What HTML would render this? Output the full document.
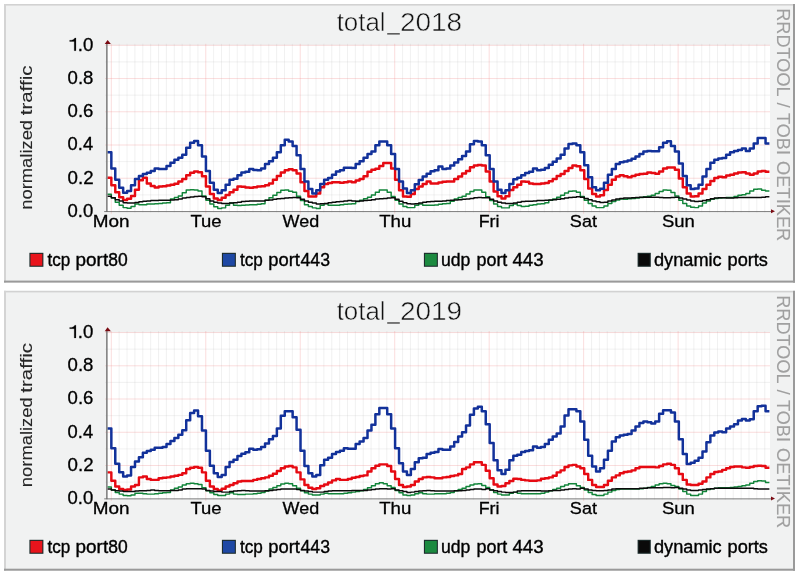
<!DOCTYPE html>
<html><head><meta charset="utf-8"><title>traffic</title>
<style>
html,body{margin:0;padding:0;background:#fff;}
body{width:800px;height:575px;overflow:hidden;font-family:"Liberation Sans",sans-serif;}
svg{display:block;filter:blur(0.45px);}
</style></head><body>
<svg width="800" height="575" viewBox="0 0 800 575" font-family="'Liberation Sans', sans-serif">
<defs><clipPath id="clip"><rect x="100" y="0" width="669.8" height="575"/></clipPath></defs>
<rect width="800" height="575" fill="#fff"/>
<rect x="4" y="4" width="791" height="278.6" fill="#f1f2f2"/>
<rect x="4" y="4" width="791" height="1.6" fill="#d2d2d2"/>
<rect x="4" y="4" width="2" height="278.6" fill="#d4d4d4"/>
<rect x="4" y="280.6" width="791" height="2" fill="#9a9a9a"/>
<rect x="793" y="4" width="2" height="278.6" fill="#9a9a9a"/>
<rect x="107.6" y="45.3" width="662.4" height="166.2" fill="#fff"/>
<path d="M119.17 43.80V212.50M127.05 43.80V212.50M134.92 43.80V212.50M142.79 43.80V212.50M150.66 43.80V212.50M158.53 43.80V212.50M166.41 43.80V212.50M174.28 43.80V212.50M182.15 43.80V212.50M190.03 43.80V212.50M197.90 43.80V212.50M213.64 43.80V212.50M221.51 43.80V212.50M229.39 43.80V212.50M237.26 43.80V212.50M245.13 43.80V212.50M253.00 43.80V212.50M260.88 43.80V212.50M268.75 43.80V212.50M276.62 43.80V212.50M284.50 43.80V212.50M292.37 43.80V212.50M308.11 43.80V212.50M315.99 43.80V212.50M323.86 43.80V212.50M331.73 43.80V212.50M339.60 43.80V212.50M347.48 43.80V212.50M355.35 43.80V212.50M363.22 43.80V212.50M371.09 43.80V212.50M378.97 43.80V212.50M386.84 43.80V212.50M402.58 43.80V212.50M410.45 43.80V212.50M418.33 43.80V212.50M426.20 43.80V212.50M434.07 43.80V212.50M441.94 43.80V212.50M449.82 43.80V212.50M457.69 43.80V212.50M465.56 43.80V212.50M473.44 43.80V212.50M481.31 43.80V212.50M497.05 43.80V212.50M504.93 43.80V212.50M512.80 43.80V212.50M520.67 43.80V212.50M528.54 43.80V212.50M536.41 43.80V212.50M544.29 43.80V212.50M552.16 43.80V212.50M560.03 43.80V212.50M567.90 43.80V212.50M575.78 43.80V212.50M591.52 43.80V212.50M599.39 43.80V212.50M607.27 43.80V212.50M615.14 43.80V212.50M623.01 43.80V212.50M630.88 43.80V212.50M638.76 43.80V212.50M646.63 43.80V212.50M654.50 43.80V212.50M662.38 43.80V212.50M670.25 43.80V212.50M685.99 43.80V212.50M693.86 43.80V212.50M701.74 43.80V212.50M709.61 43.80V212.50M717.48 43.80V212.50M725.35 43.80V212.50M733.23 43.80V212.50M741.10 43.80V212.50M748.97 43.80V212.50M756.84 43.80V212.50M764.72 43.80V212.50M105.10 194.88H770.00M105.10 161.64H770.00M105.10 128.40H770.00M105.10 95.16H770.00M105.10 61.92H770.00" stroke="#bdbdbd" stroke-width="0.9" fill="none" opacity="0.24"/>
<path d="M105.10 178.26H770.00M105.10 145.02H770.00M105.10 111.78H770.00M105.10 78.54H770.00M105.10 45.30H770.00M111.30 43.80V213.70M205.77 43.80V213.70M300.24 43.80V213.70M394.71 43.80V213.70M489.18 43.80V213.70M583.65 43.80V213.70M678.12 43.80V213.70" stroke="#ee8080" stroke-width="0.9" fill="none" opacity="0.30"/>
<path d="M107.40 177.81H111.34V185.32H115.28V192.20H119.22V197.21H123.16V200.09H127.11V198.83H131.05V195.96H134.99V189.70H138.93V180.31H142.87V177.81H146.81V183.44H150.75V185.94H154.69V187.57H158.63V186.57H162.57V186.32H166.51V185.57H170.46V184.69H174.40V183.82H178.34V181.56H182.28V179.06H186.22V175.31H190.16V172.80H194.10V171.55H198.04V172.18H201.98V176.31H205.93V186.57H209.87V194.08H213.81V198.46H217.75V200.09H221.69V197.83H225.63V195.08H229.57V192.20H233.51V189.70H237.45V186.57H241.39V186.82H245.34V187.57H249.28V187.82H253.22V187.20H257.16V186.57H261.10V186.32H265.04V185.32H268.98V183.44H272.92V179.69H276.86V175.93H280.80V172.55H284.75V170.30H288.69V169.30H292.63V170.30H296.57V173.43H300.51V182.19H304.45V190.95H308.39V196.58H312.33V196.58H316.27V193.45H320.21V187.20H324.15V184.07H328.10V183.07H332.04V182.19H335.98V182.19H339.92V182.82H343.86V182.19H347.80V181.56H351.74V182.19H355.68V180.56H359.62V179.06H363.56V176.31H367.51V171.80H371.45V169.67H375.39V168.80H379.33V165.92H383.27V163.04H387.21V163.04H391.15V168.42H395.09V179.69H399.03V190.32H402.98V196.58H406.92V196.83H410.86V194.08H414.80V189.07H418.74V186.57H422.68V184.07H426.62V181.56H430.56V183.44H434.50V183.44H438.44V182.57H442.38V181.81H446.33V181.56H450.27V181.56H454.21V179.06H458.15V176.56H462.09V173.43H466.03V170.93H469.97V167.17H473.91V165.54H477.85V165.04H481.79V165.54H485.74V171.55H489.68V181.56H493.62V191.58H497.56V196.33H501.50V198.46H505.44V196.33H509.38V190.07H513.32V187.20H517.26V184.69H521.21V181.56H525.15V181.81H529.09V183.44H533.03V184.07H536.97V184.07H540.91V183.44H544.85V183.07H548.79V181.31H552.73V179.06H556.67V175.93H560.62V174.05H564.56V170.93H568.50V168.05H572.44V165.54H576.38V166.30H580.32V170.30H584.26V179.06H588.20V188.45H592.14V194.08H596.08V196.58H600.02V195.33H603.97V190.07H607.91V184.69H611.85V179.69H615.79V176.56H619.73V175.31H623.67V176.31H627.61V177.18H631.55V175.93H635.49V174.68H639.43V174.05H643.38V173.80H647.32V172.55H651.26V173.05H655.20V173.80H659.14V171.55H663.08V168.42H667.02V167.55H670.96V167.55H674.90V169.67H678.84V178.44H682.79V187.20H686.73V193.45H690.67V196.58H694.61V196.33H698.55V193.45H702.49V189.07H706.43V184.69H710.37V180.94H714.31V178.06H718.25V176.81H722.20V177.18H726.14V175.56H730.08V174.68H734.02V173.43H737.96V172.55H741.90V172.18H745.84V173.43H749.78V174.68H753.72V173.43H757.66V171.55H761.61V170.93H765.55V171.80H769.49" stroke="#e60a12" stroke-width="2.45" fill="none" stroke-linejoin="round" clip-path="url(#clip)"/>
<path d="M107.40 152.15H111.34V168.42H115.28V179.69H119.22V187.82H123.16V192.83H127.11V190.95H131.05V185.32H134.99V179.06H138.93V175.93H142.87V174.05H146.81V172.80H150.75V170.93H154.69V168.42H158.63V169.05H162.57V169.05H166.51V165.92H170.46V162.79H174.40V159.66H178.34V157.79H182.28V154.66H186.22V147.77H190.16V142.77H194.10V140.89H198.04V145.27H201.98V156.53H205.93V170.93H209.87V182.82H213.81V189.70H217.75V193.08H221.69V190.32H225.63V184.69H229.57V179.69H233.51V178.81H237.45V175.31H241.39V172.55H245.34V171.80H249.28V169.05H253.22V170.05H257.16V170.30H261.10V168.42H265.04V164.04H268.98V161.29H272.92V157.79H276.86V152.15H280.80V145.27H284.75V139.64H288.69V141.52H292.63V145.90H296.57V155.28H300.51V169.05H304.45V181.56H308.39V189.07H312.33V193.45H316.27V190.32H320.21V184.07H324.15V179.69H328.10V178.06H332.04V174.68H335.98V171.55H339.92V170.30H343.86V167.80H347.80V167.80H351.74V168.05H355.68V164.04H359.62V161.29H363.56V157.79H367.51V154.03H371.45V151.53H375.39V145.27H379.33V141.52H383.27V141.52H387.21V145.27H391.15V154.03H395.09V169.05H399.03V181.56H402.98V188.45H406.92V193.08H410.86V190.32H414.80V184.32H418.74V180.06H422.68V176.56H426.62V173.80H430.56V171.30H434.50V170.30H438.44V166.55H442.38V169.05H446.33V168.42H450.27V165.54H454.21V162.54H458.15V159.29H462.09V155.91H466.03V151.53H469.97V144.27H473.91V140.89H477.85V141.52H481.79V145.27H485.74V155.28H489.68V169.05H493.62V181.56H497.56V189.70H501.50V193.08H505.44V190.32H509.38V184.07H513.32V179.31H517.26V177.81H521.21V175.31H525.15V173.05H529.09V171.80H533.03V168.42H536.97V170.30H540.91V169.67H544.85V168.05H548.79V164.67H552.73V161.79H556.67V158.41H560.62V154.66H564.56V148.40H568.50V144.02H572.44V143.39H576.38V145.27H580.32V152.15H584.26V165.29H588.20V177.18H592.14V187.20H596.08V190.32H600.02V188.82H603.97V182.82H607.91V174.68H611.85V169.05H615.79V164.04H619.73V162.17H623.67V161.54H627.61V160.54H631.55V158.79H635.49V156.53H639.43V154.03H643.38V151.53H647.32V150.90H651.26V151.28H655.20V151.28H659.14V147.15H663.08V142.77H667.02V141.27H670.96V145.90H674.90V151.53H678.84V163.42H682.79V175.93H686.73V185.32H690.67V189.07H694.61V188.45H698.55V184.69H702.49V176.56H706.43V169.05H710.37V162.79H714.31V159.66H718.25V158.41H722.20V158.04H726.14V154.66H730.08V152.15H734.02V150.90H737.96V150.03H741.90V148.40H745.84V150.90H749.78V148.40H753.72V143.39H757.66V138.01H761.61V138.01H765.55V143.39H769.49" stroke="#12319a" stroke-width="2.5" fill="none" stroke-linejoin="round" clip-path="url(#clip)"/>
<path d="M107.40 194.33H111.34V198.08H115.28V202.21H119.22V205.34H123.16V207.60H127.11V208.22H131.05V206.59H134.99V204.09H138.93V204.72H142.87V204.72H146.81V204.09H150.75V204.09H154.69V203.84H158.63V203.47H162.57V203.09H166.51V202.84H170.46V199.09H174.40V197.58H178.34V195.96H182.28V192.83H186.22V190.07H190.16V189.70H194.10V190.07H198.04V190.95H201.98V195.96H205.93V200.34H209.87V204.09H213.81V206.84H217.75V208.47H221.69V207.85H225.63V205.34H229.57V203.09H233.51V205.34H237.45V205.59H241.39V205.34H245.34V205.09H249.28V204.72H253.22V204.72H257.16V204.34H261.10V203.84H265.04V200.34H268.98V197.83H272.92V195.33H276.86V192.58H280.80V190.32H284.75V190.07H288.69V191.33H292.63V192.20H296.57V196.33H300.51V200.59H304.45V204.72H308.39V206.59H312.33V207.85H316.27V208.47H320.21V205.34H324.15V203.84H328.10V205.34H332.04V205.34H335.98V205.34H339.92V204.72H343.86V204.34H347.80V204.09H351.74V203.84H355.68V201.59H359.62V200.34H363.56V198.83H367.51V197.21H371.45V195.08H375.39V192.20H379.33V190.07H383.27V190.07H387.21V192.20H391.15V196.58H395.09V200.34H399.03V204.09H402.98V206.59H406.92V207.60H410.86V207.60H414.80V205.34H418.74V204.09H422.68V205.34H426.62V205.34H430.56V205.34H434.50V205.09H438.44V204.34H442.38V203.84H446.33V203.47H450.27V201.34H454.21V199.09H458.15V197.58H462.09V196.33H466.03V194.08H469.97V191.58H473.91V190.07H477.85V190.07H481.79V192.20H485.74V196.83H489.68V200.59H493.62V204.09H497.56V206.59H501.50V207.85H505.44V207.85H509.38V205.59H513.32V204.09H517.26V205.59H521.21V206.59H525.15V206.34H529.09V205.34H533.03V204.72H536.97V204.09H540.91V203.84H544.85V202.84H548.79V200.34H552.73V199.09H556.67V197.21H560.62V195.33H564.56V193.08H568.50V191.33H572.44V190.95H576.38V192.20H580.32V196.58H584.26V200.34H588.20V203.47H592.14V205.97H596.08V207.60H600.02V207.60H603.97V205.97H607.91V203.47H611.85V201.59H615.79V200.09H619.73V199.09H623.67V199.34H627.61V198.83H631.55V198.46H635.49V198.08H639.43V197.58H643.38V196.83H647.32V196.33H651.26V195.33H655.20V193.45H659.14V191.58H663.08V190.07H667.02V190.32H670.96V192.58H674.90V195.96H678.84V200.34H682.79V203.47H686.73V205.97H690.67V207.22H694.61V207.60H698.55V205.97H702.49V203.09H706.43V200.96H710.37V199.34H714.31V198.46H718.25V198.08H722.20V197.83H726.14V197.58H730.08V197.58H734.02V196.58H737.96V195.33H741.90V194.70H745.84V193.45H749.78V190.95H753.72V189.32H757.66V189.07H761.61V190.32H765.55V190.95H769.49" stroke="#12853a" stroke-width="1.45" fill="none" stroke-linejoin="round" clip-path="url(#clip)"/>
<path d="M107.40 196.33H111.34V197.83H115.28V199.71H119.22V200.96H123.16V202.84H127.11V203.09H131.05V203.09H134.99V202.59H138.93V201.84H142.87V201.34H146.81V200.96H150.75V200.59H154.69V200.59H158.63V200.34H162.57V200.34H166.51V200.34H170.46V200.09H174.40V199.71H178.34V199.09H182.28V198.08H186.22V197.58H190.16V196.96H194.10V196.58H198.04V196.33H201.98V196.83H205.93V198.83H209.87V200.96H213.81V202.21H217.75V203.09H221.69V203.47H225.63V203.47H229.57V203.09H233.51V202.84H237.45V202.21H241.39V201.59H245.34V201.34H249.28V200.96H253.22V200.96H257.16V200.96H261.10V200.96H265.04V200.34H268.98V200.09H272.92V199.34H276.86V198.83H280.80V198.46H284.75V198.08H288.69V197.83H292.63V197.58H296.57V197.83H300.51V199.34H304.45V200.96H308.39V202.21H312.33V203.09H316.27V204.09H320.21V203.84H324.15V203.47H328.10V202.84H332.04V202.21H335.98V201.84H339.92V201.59H343.86V200.96H347.80V200.59H351.74V200.96H355.68V201.34H359.62V200.96H363.56V200.59H367.51V200.34H371.45V199.71H375.39V199.09H379.33V198.83H383.27V198.46H387.21V198.08H391.15V197.83H395.09V199.34H399.03V201.34H402.98V202.84H406.92V203.84H410.86V204.09H414.80V203.84H418.74V203.09H422.68V202.21H426.62V201.84H430.56V201.59H434.50V201.34H438.44V201.34H442.38V200.96H446.33V200.59H450.27V200.34H454.21V200.09H458.15V199.71H462.09V199.34H466.03V199.09H469.97V198.46H473.91V197.83H477.85V197.58H481.79V197.83H485.74V197.83H489.68V199.34H493.62V200.96H497.56V202.21H501.50V203.09H505.44V203.47H509.38V203.47H513.32V203.09H517.26V202.21H521.21V201.59H525.15V201.34H529.09V201.34H533.03V200.96H536.97V200.59H540.91V200.59H544.85V200.34H548.79V200.09H552.73V199.71H556.67V199.34H560.62V198.83H564.56V198.08H568.50V197.58H572.44V197.21H576.38V196.83H580.32V197.21H584.26V198.46H588.20V199.71H592.14V200.96H596.08V201.84H600.02V202.59H603.97V202.21H607.91V200.96H611.85V200.09H615.79V199.09H619.73V198.46H623.67V198.08H627.61V198.08H631.55V197.83H635.49V197.58H639.43V197.21H643.38V197.21H647.32V197.21H651.26V197.21H655.20V197.21H659.14V197.58H663.08V197.83H667.02V197.83H670.96V197.58H674.90V197.21H678.84V198.08H682.79V199.09H686.73V200.09H690.67V200.96H694.61V201.59H698.55V201.34H702.49V200.59H706.43V199.71H710.37V198.83H714.31V198.08H718.25V197.83H722.20V197.83H726.14V198.08H730.08V198.08H734.02V197.83H737.96V197.58H741.90V197.58H745.84V197.58H749.78V197.58H753.72V197.58H757.66V197.58H761.61V197.21H765.55V196.83H769.49" stroke="#0a0a0a" stroke-width="1.45" fill="none" stroke-linejoin="round" clip-path="url(#clip)"/>
<rect x="106.1" y="43.8" width="1.5" height="168.2" fill="#7d7d7d"/>
<rect x="104.2" y="211.2" width="666.8" height="0.85" fill="#6a6a6a"/>
<path d="M107.6 40.00L104.7 44.00H110.9Z" fill="#7a0a12"/>
<path d="M775 211.30L771 209.30V213.30Z" fill="#7a0a12"/>
<text transform="translate(67.56 216.90) scale(1.0343 1)" font-size="17.9" fill="#000" stroke="#000" stroke-width="0.3">0.0</text>
<text transform="translate(67.55 183.66) scale(1.0443 1)" font-size="17.9" fill="#000" stroke="#000" stroke-width="0.3">0.2</text>
<text transform="translate(67.57 150.42) scale(1.0265 1)" font-size="17.9" fill="#000" stroke="#000" stroke-width="0.3">0.4</text>
<text transform="translate(67.56 117.18) scale(1.0383 1)" font-size="17.9" fill="#000" stroke="#000" stroke-width="0.3">0.6</text>
<text transform="translate(67.56 83.94) scale(1.0383 1)" font-size="17.9" fill="#000" stroke="#000" stroke-width="0.3">0.8</text>
<text transform="translate(77.78 50.70) scale(1.0418 1)" font-size="17.9" fill="#000" stroke="#000" stroke-width="0.3">.0</text>
<path d="M75.95 50.70L74.23 50.70L74.23 41.48L69.63 41.48L69.63 40.28C72.22 40.17 74.28 39.51 74.77 37.96L75.95 37.96Z" fill="#000" stroke="#000" stroke-width="0.2"/>
<text transform="translate(92.83 227.05) scale(1.1000 1)" font-size="17.2" fill="#000" stroke="#000" stroke-width="0.3">Mon</text>
<text transform="translate(190.48 227.05) scale(1.0750 1)" font-size="17.2" fill="#000" stroke="#000" stroke-width="0.3">Tue</text>
<text transform="translate(282.55 227.05) scale(1.0450 1)" font-size="17.2" fill="#000" stroke="#000" stroke-width="0.3">Wed</text>
<text transform="translate(379.13 227.05) scale(1.0850 1)" font-size="17.2" fill="#000" stroke="#000" stroke-width="0.3">Thu</text>
<text transform="translate(478.70 227.05) scale(1.0400 1)" font-size="17.2" fill="#000" stroke="#000" stroke-width="0.3">Fri</text>
<text transform="translate(569.87 227.05) scale(1.0500 1)" font-size="17.2" fill="#000" stroke="#000" stroke-width="0.3">Sat</text>
<text transform="translate(661.97 227.05) scale(1.0750 1)" font-size="17.2" fill="#000" stroke="#000" stroke-width="0.3">Sun</text>
<text transform="translate(336.66 30.60) scale(1.0114 1)" font-size="25.6" fill="#111" stroke="#f1f2f2" stroke-width="0.5">total</text>
<text transform="translate(399.90 30.60) scale(1.0921 1)" font-size="25.6" fill="#111" stroke="#f1f2f2" stroke-width="0.5">2018</text>
<rect x="387.2" y="33.30" width="12.6" height="1.15" fill="#222"/>
<text transform="translate(32.1 209.74) rotate(-90) scale(1.0807 1)" font-size="17" fill="#262626" stroke="#262626" stroke-width="0.1">normalized</text>
<text transform="translate(32.1 115.31) rotate(-90) scale(1.2073 1)" font-size="17" fill="#262626" stroke="#262626" stroke-width="0.1">traffic</text>
<text transform="translate(777.3 8.20) rotate(90) scale(0.9464 1)" font-size="19.2" fill="#a0a0a0" stroke="#a0a0a0" stroke-width="0.1">RRDTOOL</text>
<text transform="translate(777.3 102.60) rotate(90) scale(0.9947 1)" font-size="19.2" fill="#a0a0a0" stroke="#a0a0a0" stroke-width="0.1">/</text>
<text transform="translate(777.3 112.99) rotate(90) scale(0.9446 1)" font-size="19.2" fill="#a0a0a0" stroke="#a0a0a0" stroke-width="0.1">TOBI</text>
<text transform="translate(777.3 161.03) rotate(90) scale(0.9531 1)" font-size="19.2" fill="#a0a0a0" stroke="#a0a0a0" stroke-width="0.1">OETIKER</text>
<rect x="29.4" y="252.80" width="14" height="14" fill="#1c2c2c"/>
<rect x="30.5" y="253.90" width="11.8" height="11.8" fill="#e8141c"/>
<text transform="translate(47.49 266.00) scale(0.9346 1)" font-size="18.3" fill="#000" stroke="#000" stroke-width="0.38">tcp</text>
<text transform="translate(75.57 266.00) scale(1.0333 1)" font-size="18.3" fill="#000" stroke="#000" stroke-width="0.38">port</text>
<text transform="translate(108.26 266.00) scale(0.9550 1)" font-size="18.3" fill="#000" stroke="#000" stroke-width="0.38">80</text>
<rect x="221.9" y="252.80" width="14" height="14" fill="#1c2c2c"/>
<rect x="223" y="253.90" width="11.8" height="11.8" fill="#1e48a4"/>
<text transform="translate(240.04 266.00) scale(0.9368 1)" font-size="18.3" fill="#000" stroke="#000" stroke-width="0.38">tcp</text>
<text transform="translate(268.21 266.00) scale(1.0035 1)" font-size="18.3" fill="#000" stroke="#000" stroke-width="0.38">port</text>
<text transform="translate(300.50 266.00) scale(0.9650 1)" font-size="18.3" fill="#000" stroke="#000" stroke-width="0.38">443</text>
<rect x="423.9" y="252.80" width="14" height="14" fill="#1c2c2c"/>
<rect x="425" y="253.90" width="11.8" height="11.8" fill="#1c8a40"/>
<text transform="translate(441.00 266.00) scale(0.9635 1)" font-size="18.3" fill="#000" stroke="#000" stroke-width="0.38">udp</text>
<text transform="translate(476.43 266.00) scale(0.9803 1)" font-size="18.3" fill="#000" stroke="#000" stroke-width="0.38">port</text>
<text transform="translate(512.48 266.00) scale(1.0196 1)" font-size="18.3" fill="#000" stroke="#000" stroke-width="0.38">443</text>
<rect x="637.6" y="252.80" width="13.2" height="14" fill="#1c2c2c"/>
<rect x="638.7" y="253.90" width="11" height="11.8" fill="#0a0a0a"/>
<text transform="translate(653.98 266.00) scale(0.9942 1)" font-size="18.3" fill="#000" stroke="#000" stroke-width="0.38">dynamic</text>
<text transform="translate(727.52 266.00) scale(0.9938 1)" font-size="18.3" fill="#000" stroke="#000" stroke-width="0.38">ports</text>
<rect x="4" y="290.8" width="791" height="279.9" fill="#f1f2f2"/>
<rect x="4" y="290.8" width="791" height="1.6" fill="#d2d2d2"/>
<rect x="4" y="290.8" width="2" height="279.9" fill="#d4d4d4"/>
<rect x="4" y="568.7" width="791" height="2" fill="#9a9a9a"/>
<rect x="793" y="290.8" width="2" height="279.9" fill="#9a9a9a"/>
<rect x="107.6" y="332.55" width="662.4" height="166.2" fill="#fff"/>
<path d="M119.17 331.05V499.75M127.05 331.05V499.75M134.92 331.05V499.75M142.79 331.05V499.75M150.66 331.05V499.75M158.53 331.05V499.75M166.41 331.05V499.75M174.28 331.05V499.75M182.15 331.05V499.75M190.03 331.05V499.75M197.90 331.05V499.75M213.64 331.05V499.75M221.51 331.05V499.75M229.39 331.05V499.75M237.26 331.05V499.75M245.13 331.05V499.75M253.00 331.05V499.75M260.88 331.05V499.75M268.75 331.05V499.75M276.62 331.05V499.75M284.50 331.05V499.75M292.37 331.05V499.75M308.11 331.05V499.75M315.99 331.05V499.75M323.86 331.05V499.75M331.73 331.05V499.75M339.60 331.05V499.75M347.48 331.05V499.75M355.35 331.05V499.75M363.22 331.05V499.75M371.09 331.05V499.75M378.97 331.05V499.75M386.84 331.05V499.75M402.58 331.05V499.75M410.45 331.05V499.75M418.33 331.05V499.75M426.20 331.05V499.75M434.07 331.05V499.75M441.94 331.05V499.75M449.82 331.05V499.75M457.69 331.05V499.75M465.56 331.05V499.75M473.44 331.05V499.75M481.31 331.05V499.75M497.05 331.05V499.75M504.93 331.05V499.75M512.80 331.05V499.75M520.67 331.05V499.75M528.54 331.05V499.75M536.41 331.05V499.75M544.29 331.05V499.75M552.16 331.05V499.75M560.03 331.05V499.75M567.90 331.05V499.75M575.78 331.05V499.75M591.52 331.05V499.75M599.39 331.05V499.75M607.27 331.05V499.75M615.14 331.05V499.75M623.01 331.05V499.75M630.88 331.05V499.75M638.76 331.05V499.75M646.63 331.05V499.75M654.50 331.05V499.75M662.38 331.05V499.75M670.25 331.05V499.75M685.99 331.05V499.75M693.86 331.05V499.75M701.74 331.05V499.75M709.61 331.05V499.75M717.48 331.05V499.75M725.35 331.05V499.75M733.23 331.05V499.75M741.10 331.05V499.75M748.97 331.05V499.75M756.84 331.05V499.75M764.72 331.05V499.75M105.10 482.13H770.00M105.10 448.89H770.00M105.10 415.65H770.00M105.10 382.41H770.00M105.10 349.17H770.00" stroke="#bdbdbd" stroke-width="0.9" fill="none" opacity="0.24"/>
<path d="M105.10 465.51H770.00M105.10 432.27H770.00M105.10 399.03H770.00M105.10 365.79H770.00M105.10 332.55H770.00M111.30 331.05V500.95M205.77 331.05V500.95M300.24 331.05V500.95M394.71 331.05V500.95M489.18 331.05V500.95M583.65 331.05V500.95M678.12 331.05V500.95" stroke="#ee8080" stroke-width="0.9" fill="none" opacity="0.30"/>
<path d="M107.40 472.37H111.34V480.73H115.28V486.58H119.22V489.09H123.16V489.92H127.11V489.42H131.05V486.58H134.99V484.91H138.93V477.39H142.87V476.55H146.81V479.06H150.75V479.89H154.69V479.89H158.63V478.22H162.57V477.72H166.51V477.39H170.46V476.55H174.40V475.71H178.34V474.88H182.28V473.21H186.22V469.03H190.16V467.69H194.10V467.02H198.04V467.69H201.98V472.37H205.93V480.73H209.87V486.58H213.81V489.09H217.75V490.42H221.69V488.75H225.63V486.58H229.57V484.91H233.51V483.24H237.45V481.56H241.39V481.06H245.34V481.06H249.28V481.06H253.22V479.89H257.16V479.06H261.10V478.22H265.04V477.39H268.98V475.71H272.92V473.71H276.86V471.03H280.80V468.19H284.75V466.52H288.69V466.02H292.63V467.36H296.57V472.37H300.51V479.39H304.45V484.91H308.39V487.75H312.33V489.09H316.27V488.25H320.21V486.08H324.15V484.41H328.10V482.40H332.04V480.39H335.98V479.06H339.92V479.89H343.86V479.89H347.80V479.06H351.74V477.72H355.68V477.05H359.62V476.05H363.56V475.38H367.51V471.53H371.45V468.19H375.39V465.68H379.33V464.35H383.27V464.35H387.21V466.02H391.15V471.53H395.09V479.06H399.03V484.91H402.98V487.08H406.92V486.58H410.86V484.91H414.80V481.56H418.74V479.06H422.68V477.39H426.62V477.05H430.56V477.39H434.50V478.22H438.44V478.22H442.38V477.39H446.33V477.05H450.27V476.05H454.21V475.38H458.15V474.04H462.09V469.03H466.03V467.36H469.97V464.35H473.91V462.34H477.85V462.34H481.79V464.85H485.74V470.70H489.68V478.22H493.62V484.41H497.56V486.58H501.50V486.08H505.44V483.24H509.38V481.06H513.32V478.72H517.26V479.06H521.21V479.89H525.15V480.39H529.09V480.73H533.03V480.73H536.97V480.39H540.91V478.72H544.85V478.22H548.79V477.39H552.73V475.71H556.67V472.37H560.62V470.36H564.56V467.02H568.50V465.35H572.44V464.85H576.38V466.52H580.32V468.19H584.26V474.04H588.20V479.89H592.14V484.91H596.08V487.08H600.02V487.08H603.97V484.91H607.91V480.73H611.85V477.39H615.79V475.38H619.73V473.21H623.67V472.04H627.61V471.53H631.55V470.36H635.49V468.19H639.43V467.02H643.38V467.02H647.32V467.02H651.26V467.02H655.20V467.36H659.14V466.02H663.08V464.35H667.02V463.68H670.96V464.85H674.90V468.19H678.84V474.04H682.79V479.89H686.73V484.41H690.67V484.91H694.61V484.91H698.55V483.74H702.49V481.56H706.43V477.39H710.37V474.04H714.31V472.04H718.25V471.53H722.20V469.86H726.14V468.19H730.08V467.02H734.02V466.52H737.96V466.52H741.90V467.36H745.84V467.69H749.78V467.02H753.72V466.02H757.66V465.68H761.61V466.02H765.55V467.69H769.49" stroke="#e60a12" stroke-width="2.45" fill="none" stroke-linejoin="round" clip-path="url(#clip)"/>
<path d="M107.40 428.58H111.34V448.13H115.28V463.68H119.22V472.37H123.16V476.55H127.11V475.38H131.05V467.02H134.99V461.51H138.93V457.33H142.87V452.65H146.81V450.97H150.75V449.80H154.69V447.63H158.63V447.63H162.57V446.96H166.51V443.95H170.46V440.94H174.40V438.10H178.34V434.76H182.28V430.25H186.22V420.22H190.16V413.03H194.10V410.52H198.04V416.37H201.98V430.58H205.93V450.64H209.87V465.68H213.81V473.21H217.75V477.05H221.69V474.88H225.63V467.02H229.57V462.01H233.51V459.83H237.45V455.99H241.39V453.65H245.34V452.31H249.28V448.63H253.22V449.80H257.16V449.30H261.10V446.96H265.04V443.62H268.98V439.27H272.92V435.93H276.86V428.58H280.80V415.87H284.75V411.36H288.69V411.36H292.63V417.21H296.57V429.75H300.51V450.64H304.45V466.02H308.39V473.21H312.33V476.55H316.27V474.88H320.21V465.35H324.15V459.83H328.10V457.66H332.04V453.98H335.98V451.98H339.92V450.64H343.86V448.13H347.80V448.63H351.74V448.63H355.68V443.95H359.62V441.45H363.56V438.10H367.51V430.58H371.45V424.73H375.39V414.20H379.33V408.01H383.27V408.01H387.21V414.20H391.15V428.58H395.09V448.13H399.03V463.18H402.98V471.53H406.92V474.88H410.86V469.03H414.80V462.34H418.74V458.16H422.68V457.66H426.62V453.98H430.56V452.65H434.50V451.98H438.44V448.97H442.38V449.80H446.33V449.80H450.27V446.46H454.21V441.95H458.15V436.43H462.09V432.25H466.03V425.57H469.97V414.70H473.91V408.52H477.85V406.84H481.79V411.36H485.74V424.23H489.68V443.12H493.62V460.34H497.56V470.36H501.50V474.04H505.44V469.86H509.38V460.34H513.32V455.65H517.26V454.82H521.21V451.98H525.15V450.97H529.09V450.31H533.03V446.46H536.97V447.63H540.91V446.96H544.85V443.95H548.79V439.77H552.73V436.43H556.67V433.59H560.62V426.40H564.56V415.54H568.50V409.18H572.44V409.18H576.38V411.36H580.32V421.39H584.26V439.77H588.20V455.65H592.14V466.52H596.08V471.53H600.02V468.19H603.97V459.83H607.91V450.64H611.85V441.45H615.79V437.27H619.73V435.60H623.67V434.76H627.61V433.92H631.55V430.58H635.49V426.40H639.43V423.06H643.38V421.39H647.32V422.22H651.26V423.56H655.20V421.39H659.14V413.87H663.08V410.19H667.02V410.19H670.96V412.53H674.90V421.39H678.84V439.27H682.79V453.98H686.73V464.01H690.67V462.68H694.61V460.67H698.55V457.66H702.49V451.48H706.43V442.28H710.37V435.60H714.31V432.59H718.25V431.42H722.20V432.25H726.14V428.58H730.08V426.40H734.02V424.23H737.96V420.55H741.90V418.88H745.84V420.55H749.78V419.21H753.72V411.36H757.66V406.34H761.61V405.84H765.55V411.36H769.49" stroke="#12319a" stroke-width="2.5" fill="none" stroke-linejoin="round" clip-path="url(#clip)"/>
<path d="M107.40 487.08H111.34V489.92H115.28V492.43H119.22V494.10H123.16V495.44H127.11V495.77H131.05V494.94H134.99V493.27H138.93V493.27H142.87V493.77H146.81V494.10H150.75V494.10H154.69V493.77H158.63V493.27H162.57V492.76H166.51V492.43H170.46V489.92H174.40V488.25H178.34V487.08H182.28V484.91H186.22V483.74H190.16V483.24H194.10V483.74H198.04V484.41H201.98V487.75H205.93V490.76H209.87V492.76H213.81V494.44H217.75V495.44H221.69V495.44H225.63V494.10H229.57V492.76H233.51V494.10H237.45V494.44H241.39V494.44H245.34V494.10H249.28V494.10H253.22V493.77H257.16V493.27H261.10V492.43H265.04V491.09H268.98V489.09H272.92V487.41H276.86V485.74H280.80V484.07H284.75V483.24H288.69V483.74H292.63V485.74H296.57V488.25H300.51V490.76H304.45V492.76H308.39V494.10H312.33V494.94H316.27V494.94H320.21V494.10H324.15V493.27H328.10V493.77H332.04V493.77H335.98V493.77H339.92V493.77H343.86V493.27H347.80V492.76H351.74V492.10H355.68V491.59H359.62V490.76H363.56V489.42H367.51V487.75H371.45V485.74H375.39V483.74H379.33V482.73H383.27V483.74H387.21V485.74H391.15V487.41H395.09V490.42H399.03V492.76H402.98V494.94H406.92V495.44H410.86V494.94H414.80V493.77H418.74V492.76H422.68V493.77H426.62V494.10H430.56V494.10H434.50V493.77H438.44V493.77H442.38V493.77H446.33V493.27H450.27V492.43H454.21V490.76H458.15V489.42H462.09V488.25H466.03V486.58H469.97V484.91H473.91V484.07H477.85V483.74H481.79V485.41H485.74V487.41H489.68V489.92H493.62V492.43H497.56V494.10H501.50V494.94H505.44V494.94H509.38V493.27H513.32V492.10H517.26V493.27H521.21V493.77H525.15V493.77H529.09V493.77H533.03V493.77H536.97V493.77H540.91V493.27H544.85V492.10H548.79V490.76H552.73V489.42H556.67V488.25H560.62V486.58H564.56V484.91H568.50V483.74H572.44V483.74H576.38V485.74H580.32V487.41H584.26V489.92H588.20V492.43H592.14V494.44H596.08V495.44H600.02V495.44H603.97V494.10H607.91V492.10H611.85V490.42H615.79V489.42H619.73V489.09H623.67V489.09H627.61V489.09H631.55V489.09H635.49V489.09H639.43V488.75H643.38V488.25H647.32V487.41H651.26V486.58H655.20V484.91H659.14V483.74H663.08V483.24H667.02V483.74H670.96V485.41H674.90V486.58H678.84V489.09H682.79V491.59H686.73V494.10H690.67V495.44H694.61V495.44H698.55V494.10H702.49V491.59H706.43V489.42H710.37V488.75H714.31V488.25H718.25V487.75H722.20V487.75H726.14V487.75H730.08V487.41H734.02V487.08H737.96V486.58H741.90V485.74H745.84V484.91H749.78V483.24H753.72V481.56H757.66V480.73H761.61V481.06H765.55V482.40H769.49" stroke="#12853a" stroke-width="1.45" fill="none" stroke-linejoin="round" clip-path="url(#clip)"/>
<path d="M107.40 489.09H111.34V489.92H115.28V490.76H119.22V491.09H123.16V491.59H127.11V491.59H131.05V491.43H134.99V491.09H138.93V490.76H142.87V490.76H146.81V490.42H150.75V490.09H154.69V490.42H158.63V490.76H162.57V490.76H166.51V490.76H170.46V490.42H174.40V490.42H178.34V489.92H182.28V489.09H186.22V488.75H190.16V488.75H194.10V488.75H198.04V488.75H201.98V489.09H205.93V490.42H209.87V491.09H213.81V491.59H217.75V491.59H221.69V492.10H225.63V492.10H229.57V491.59H233.51V491.09H237.45V490.76H241.39V490.42H245.34V490.76H249.28V491.09H253.22V491.09H257.16V491.09H261.10V491.09H265.04V490.76H268.98V490.42H272.92V489.92H276.86V489.42H280.80V489.09H284.75V489.09H288.69V489.09H292.63V489.09H296.57V489.42H300.51V490.42H304.45V491.09H308.39V491.59H312.33V492.10H316.27V492.10H320.21V492.10H324.15V491.59H328.10V491.09H332.04V490.76H335.98V490.76H339.92V490.76H343.86V490.76H347.80V490.76H351.74V490.42H355.68V490.42H359.62V490.42H363.56V490.42H367.51V489.92H371.45V489.42H375.39V489.09H379.33V488.75H383.27V488.75H387.21V489.09H391.15V488.75H395.09V489.92H399.03V490.76H402.98V491.59H406.92V492.43H410.86V492.10H414.80V491.59H418.74V491.09H422.68V490.76H426.62V490.42H430.56V490.76H434.50V491.09H438.44V491.09H442.38V491.09H446.33V491.09H450.27V491.09H454.21V490.76H458.15V490.76H462.09V490.42H466.03V489.92H469.97V489.42H473.91V489.09H477.85V489.09H481.79V489.42H485.74V488.75H489.68V489.92H493.62V490.76H497.56V491.59H501.50V492.10H505.44V492.43H509.38V492.43H513.32V492.10H517.26V491.09H521.21V490.76H525.15V490.76H529.09V490.76H533.03V490.76H536.97V490.76H540.91V491.09H544.85V491.09H548.79V490.76H552.73V490.42H556.67V490.42H560.62V489.92H564.56V489.42H568.50V489.09H572.44V488.75H576.38V489.09H580.32V488.25H584.26V489.09H588.20V489.92H592.14V490.42H596.08V490.76H600.02V490.76H603.97V490.42H607.91V489.92H611.85V489.09H615.79V488.75H619.73V488.75H623.67V488.75H627.61V488.75H631.55V488.75H635.49V488.75H639.43V488.25H643.38V488.25H647.32V487.75H651.26V487.75H655.20V487.75H659.14V487.75H663.08V487.41H667.02V487.41H670.96V487.75H674.90V487.41H678.84V488.25H682.79V489.09H686.73V489.92H690.67V490.42H694.61V490.42H698.55V489.92H702.49V489.42H706.43V489.09H710.37V488.75H714.31V488.25H718.25V488.25H722.20V488.25H726.14V488.25H730.08V488.25H734.02V488.25H737.96V488.25H741.90V488.25H745.84V488.25H749.78V488.25H753.72V488.75H757.66V489.09H761.61V489.09H765.55V489.09H769.49" stroke="#0a0a0a" stroke-width="1.45" fill="none" stroke-linejoin="round" clip-path="url(#clip)"/>
<rect x="106.1" y="331.05" width="1.5" height="168.2" fill="#7d7d7d"/>
<rect x="104.2" y="498.45" width="666.8" height="0.85" fill="#6a6a6a"/>
<path d="M107.6 327.25L104.7 331.25H110.9Z" fill="#7a0a12"/>
<path d="M775 498.55L771 496.55V500.55Z" fill="#7a0a12"/>
<text transform="translate(67.56 504.15) scale(1.0343 1)" font-size="17.9" fill="#000" stroke="#000" stroke-width="0.3">0.0</text>
<text transform="translate(67.55 470.91) scale(1.0443 1)" font-size="17.9" fill="#000" stroke="#000" stroke-width="0.3">0.2</text>
<text transform="translate(67.57 437.67) scale(1.0265 1)" font-size="17.9" fill="#000" stroke="#000" stroke-width="0.3">0.4</text>
<text transform="translate(67.56 404.43) scale(1.0383 1)" font-size="17.9" fill="#000" stroke="#000" stroke-width="0.3">0.6</text>
<text transform="translate(67.56 371.19) scale(1.0383 1)" font-size="17.9" fill="#000" stroke="#000" stroke-width="0.3">0.8</text>
<text transform="translate(77.78 337.95) scale(1.0418 1)" font-size="17.9" fill="#000" stroke="#000" stroke-width="0.3">.0</text>
<path d="M75.95 337.95L74.23 337.95L74.23 328.73L69.63 328.73L69.63 327.53C72.22 327.42 74.28 326.76 74.77 325.21L75.95 325.21Z" fill="#000" stroke="#000" stroke-width="0.2"/>
<text transform="translate(92.83 514.05) scale(1.1000 1)" font-size="17.2" fill="#000" stroke="#000" stroke-width="0.3">Mon</text>
<text transform="translate(190.48 514.05) scale(1.0750 1)" font-size="17.2" fill="#000" stroke="#000" stroke-width="0.3">Tue</text>
<text transform="translate(282.55 514.05) scale(1.0450 1)" font-size="17.2" fill="#000" stroke="#000" stroke-width="0.3">Wed</text>
<text transform="translate(379.13 514.05) scale(1.0850 1)" font-size="17.2" fill="#000" stroke="#000" stroke-width="0.3">Thu</text>
<text transform="translate(478.70 514.05) scale(1.0400 1)" font-size="17.2" fill="#000" stroke="#000" stroke-width="0.3">Fri</text>
<text transform="translate(569.87 514.05) scale(1.0500 1)" font-size="17.2" fill="#000" stroke="#000" stroke-width="0.3">Sat</text>
<text transform="translate(661.97 514.05) scale(1.0750 1)" font-size="17.2" fill="#000" stroke="#000" stroke-width="0.3">Sun</text>
<text transform="translate(336.66 319.70) scale(1.0114 1)" font-size="25.6" fill="#111" stroke="#f1f2f2" stroke-width="0.5">total</text>
<text transform="translate(399.90 319.70) scale(1.0934 1)" font-size="25.6" fill="#111" stroke="#f1f2f2" stroke-width="0.5">2019</text>
<rect x="387.2" y="322.40" width="12.6" height="1.15" fill="#222"/>
<text transform="translate(32.1 487.14) rotate(-90) scale(1.0807 1)" font-size="17" fill="#262626" stroke="#262626" stroke-width="0.1">normalized</text>
<text transform="translate(32.1 392.71) rotate(-90) scale(1.2073 1)" font-size="17" fill="#262626" stroke="#262626" stroke-width="0.1">traffic</text>
<text transform="translate(777.3 295.20) rotate(90) scale(0.9464 1)" font-size="19.2" fill="#a0a0a0" stroke="#a0a0a0" stroke-width="0.1">RRDTOOL</text>
<text transform="translate(777.3 389.60) rotate(90) scale(0.9947 1)" font-size="19.2" fill="#a0a0a0" stroke="#a0a0a0" stroke-width="0.1">/</text>
<text transform="translate(777.3 399.99) rotate(90) scale(0.9446 1)" font-size="19.2" fill="#a0a0a0" stroke="#a0a0a0" stroke-width="0.1">TOBI</text>
<text transform="translate(777.3 448.03) rotate(90) scale(0.9531 1)" font-size="19.2" fill="#a0a0a0" stroke="#a0a0a0" stroke-width="0.1">OETIKER</text>
<rect x="29.4" y="539.80" width="14" height="14" fill="#1c2c2c"/>
<rect x="30.5" y="540.90" width="11.8" height="11.8" fill="#e8141c"/>
<text transform="translate(47.49 553.00) scale(0.9346 1)" font-size="18.3" fill="#000" stroke="#000" stroke-width="0.38">tcp</text>
<text transform="translate(75.57 553.00) scale(1.0333 1)" font-size="18.3" fill="#000" stroke="#000" stroke-width="0.38">port</text>
<text transform="translate(108.26 553.00) scale(0.9550 1)" font-size="18.3" fill="#000" stroke="#000" stroke-width="0.38">80</text>
<rect x="221.9" y="539.80" width="14" height="14" fill="#1c2c2c"/>
<rect x="223" y="540.90" width="11.8" height="11.8" fill="#1e48a4"/>
<text transform="translate(240.04 553.00) scale(0.9368 1)" font-size="18.3" fill="#000" stroke="#000" stroke-width="0.38">tcp</text>
<text transform="translate(268.21 553.00) scale(1.0035 1)" font-size="18.3" fill="#000" stroke="#000" stroke-width="0.38">port</text>
<text transform="translate(300.50 553.00) scale(0.9650 1)" font-size="18.3" fill="#000" stroke="#000" stroke-width="0.38">443</text>
<rect x="423.9" y="539.80" width="14" height="14" fill="#1c2c2c"/>
<rect x="425" y="540.90" width="11.8" height="11.8" fill="#1c8a40"/>
<text transform="translate(441.00 553.00) scale(0.9635 1)" font-size="18.3" fill="#000" stroke="#000" stroke-width="0.38">udp</text>
<text transform="translate(476.43 553.00) scale(0.9803 1)" font-size="18.3" fill="#000" stroke="#000" stroke-width="0.38">port</text>
<text transform="translate(512.48 553.00) scale(1.0196 1)" font-size="18.3" fill="#000" stroke="#000" stroke-width="0.38">443</text>
<rect x="637.6" y="539.80" width="13.2" height="14" fill="#1c2c2c"/>
<rect x="638.7" y="540.90" width="11" height="11.8" fill="#0a0a0a"/>
<text transform="translate(653.98 553.00) scale(0.9942 1)" font-size="18.3" fill="#000" stroke="#000" stroke-width="0.38">dynamic</text>
<text transform="translate(727.52 553.00) scale(0.9938 1)" font-size="18.3" fill="#000" stroke="#000" stroke-width="0.38">ports</text>
</svg>
</body></html>
